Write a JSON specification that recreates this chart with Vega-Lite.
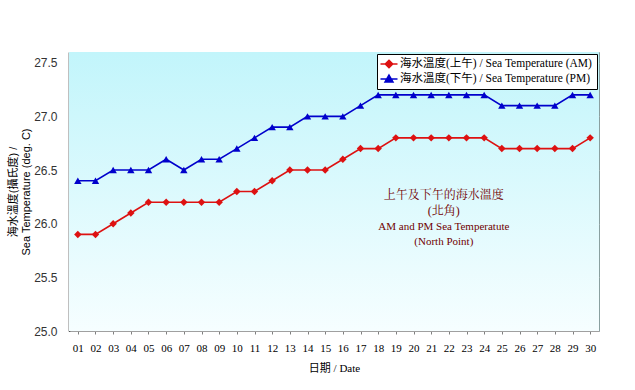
{
  "$schema": "https://vega.github.io/schema/vega-lite/v6.json",
  "width": 530,
  "height": 279,
  "autosize": {"type": "none"},
  "padding": {"left": 69, "top": 52, "right": 36, "bottom": 59},
  "background": "white",
  "config": {"view": {"stroke": "#8aa0a0", "strokeWidth": 1}},
  "datasets": {
    "temps": [
      {"date": "01", "series": "海水溫度(上午) / Sea Temperature (AM)", "temp": 25.9},
      {"date": "02", "series": "海水溫度(上午) / Sea Temperature (AM)", "temp": 25.9},
      {"date": "03", "series": "海水溫度(上午) / Sea Temperature (AM)", "temp": 26.0},
      {"date": "04", "series": "海水溫度(上午) / Sea Temperature (AM)", "temp": 26.1},
      {"date": "05", "series": "海水溫度(上午) / Sea Temperature (AM)", "temp": 26.2},
      {"date": "06", "series": "海水溫度(上午) / Sea Temperature (AM)", "temp": 26.2},
      {"date": "07", "series": "海水溫度(上午) / Sea Temperature (AM)", "temp": 26.2},
      {"date": "08", "series": "海水溫度(上午) / Sea Temperature (AM)", "temp": 26.2},
      {"date": "09", "series": "海水溫度(上午) / Sea Temperature (AM)", "temp": 26.2},
      {"date": "10", "series": "海水溫度(上午) / Sea Temperature (AM)", "temp": 26.3},
      {"date": "11", "series": "海水溫度(上午) / Sea Temperature (AM)", "temp": 26.3},
      {"date": "12", "series": "海水溫度(上午) / Sea Temperature (AM)", "temp": 26.4},
      {"date": "13", "series": "海水溫度(上午) / Sea Temperature (AM)", "temp": 26.5},
      {"date": "14", "series": "海水溫度(上午) / Sea Temperature (AM)", "temp": 26.5},
      {"date": "15", "series": "海水溫度(上午) / Sea Temperature (AM)", "temp": 26.5},
      {"date": "16", "series": "海水溫度(上午) / Sea Temperature (AM)", "temp": 26.6},
      {"date": "17", "series": "海水溫度(上午) / Sea Temperature (AM)", "temp": 26.7},
      {"date": "18", "series": "海水溫度(上午) / Sea Temperature (AM)", "temp": 26.7},
      {"date": "19", "series": "海水溫度(上午) / Sea Temperature (AM)", "temp": 26.8},
      {"date": "20", "series": "海水溫度(上午) / Sea Temperature (AM)", "temp": 26.8},
      {"date": "21", "series": "海水溫度(上午) / Sea Temperature (AM)", "temp": 26.8},
      {"date": "22", "series": "海水溫度(上午) / Sea Temperature (AM)", "temp": 26.8},
      {"date": "23", "series": "海水溫度(上午) / Sea Temperature (AM)", "temp": 26.8},
      {"date": "24", "series": "海水溫度(上午) / Sea Temperature (AM)", "temp": 26.8},
      {"date": "25", "series": "海水溫度(上午) / Sea Temperature (AM)", "temp": 26.7},
      {"date": "26", "series": "海水溫度(上午) / Sea Temperature (AM)", "temp": 26.7},
      {"date": "27", "series": "海水溫度(上午) / Sea Temperature (AM)", "temp": 26.7},
      {"date": "28", "series": "海水溫度(上午) / Sea Temperature (AM)", "temp": 26.7},
      {"date": "29", "series": "海水溫度(上午) / Sea Temperature (AM)", "temp": 26.7},
      {"date": "30", "series": "海水溫度(上午) / Sea Temperature (AM)", "temp": 26.8},
      {"date": "01", "series": "海水溫度(下午) / Sea Temperature (PM)", "temp": 26.4},
      {"date": "02", "series": "海水溫度(下午) / Sea Temperature (PM)", "temp": 26.4},
      {"date": "03", "series": "海水溫度(下午) / Sea Temperature (PM)", "temp": 26.5},
      {"date": "04", "series": "海水溫度(下午) / Sea Temperature (PM)", "temp": 26.5},
      {"date": "05", "series": "海水溫度(下午) / Sea Temperature (PM)", "temp": 26.5},
      {"date": "06", "series": "海水溫度(下午) / Sea Temperature (PM)", "temp": 26.6},
      {"date": "07", "series": "海水溫度(下午) / Sea Temperature (PM)", "temp": 26.5},
      {"date": "08", "series": "海水溫度(下午) / Sea Temperature (PM)", "temp": 26.6},
      {"date": "09", "series": "海水溫度(下午) / Sea Temperature (PM)", "temp": 26.6},
      {"date": "10", "series": "海水溫度(下午) / Sea Temperature (PM)", "temp": 26.7},
      {"date": "11", "series": "海水溫度(下午) / Sea Temperature (PM)", "temp": 26.8},
      {"date": "12", "series": "海水溫度(下午) / Sea Temperature (PM)", "temp": 26.9},
      {"date": "13", "series": "海水溫度(下午) / Sea Temperature (PM)", "temp": 26.9},
      {"date": "14", "series": "海水溫度(下午) / Sea Temperature (PM)", "temp": 27.0},
      {"date": "15", "series": "海水溫度(下午) / Sea Temperature (PM)", "temp": 27.0},
      {"date": "16", "series": "海水溫度(下午) / Sea Temperature (PM)", "temp": 27.0},
      {"date": "17", "series": "海水溫度(下午) / Sea Temperature (PM)", "temp": 27.1},
      {"date": "18", "series": "海水溫度(下午) / Sea Temperature (PM)", "temp": 27.2},
      {"date": "19", "series": "海水溫度(下午) / Sea Temperature (PM)", "temp": 27.2},
      {"date": "20", "series": "海水溫度(下午) / Sea Temperature (PM)", "temp": 27.2},
      {"date": "21", "series": "海水溫度(下午) / Sea Temperature (PM)", "temp": 27.2},
      {"date": "22", "series": "海水溫度(下午) / Sea Temperature (PM)", "temp": 27.2},
      {"date": "23", "series": "海水溫度(下午) / Sea Temperature (PM)", "temp": 27.2},
      {"date": "24", "series": "海水溫度(下午) / Sea Temperature (PM)", "temp": 27.2},
      {"date": "25", "series": "海水溫度(下午) / Sea Temperature (PM)", "temp": 27.1},
      {"date": "26", "series": "海水溫度(下午) / Sea Temperature (PM)", "temp": 27.1},
      {"date": "27", "series": "海水溫度(下午) / Sea Temperature (PM)", "temp": 27.1},
      {"date": "28", "series": "海水溫度(下午) / Sea Temperature (PM)", "temp": 27.1},
      {"date": "29", "series": "海水溫度(下午) / Sea Temperature (PM)", "temp": 27.2},
      {"date": "30", "series": "海水溫度(下午) / Sea Temperature (PM)", "temp": 27.2}
    ],
    "notes": [
      {"date": "22", "text": "上午及下午的海水溫度", "ty": 26.27, "kind": "zh"},
      {"date": "22", "text": "(北角)", "ty": 26.12, "kind": "zh"},
      {"date": "22", "text": "AM and PM Sea Temperatute", "ty": 25.97, "kind": "en"},
      {"date": "22", "text": "(North Point)", "ty": 25.83, "kind": "en"}
    ]
  },
  "layer": [
    {
      "data": {"values": [{"top": 27.6, "bottom": 25.0}]},
      "mark": {
        "type": "rect",
        "color": {
          "gradient": "linear", "x1": 0, "y1": 0, "x2": 0, "y2": 1,
          "stops": [
            {"offset": 0, "color": "#c2f5fb"},
            {"offset": 1, "color": "#f6feff"}
          ]
        }
      },
      "encoding": {
        "y": {"field": "top", "type": "quantitative", "scale": {"domain": [25, 27.6], "nice": false, "zero": false}},
        "y2": {"field": "bottom"}
      }
    },
    {
      "data": {"name": "temps"},
      "mark": {"type": "line", "strokeWidth": 1.6},
      "encoding": {
        "x": {
          "field": "date", "type": "ordinal",
          "scale": {"paddingInner": 0, "paddingOuter": 0},
          "axis": {
            "title": "日期 / Date",
            "titleFont": "Liberation Serif, Noto Sans CJK TC",
            "titleFontSize": 11,
            "titleFontWeight": "normal",
            "titleColor": "black",
            "titlePadding": 9,
            "labelAngle": 0,
            "labelFont": "Liberation Serif",
            "labelFontSize": 11,
            "labelColor": "black",
            "labelPadding": 8,
            "bandPosition": 0,
            "tickSize": 3,
            "tickColor": "#808080",
            "domainColor": "#a0a0a0",
            "grid": false
          }
        },
        "y": {
          "field": "temp", "type": "quantitative",
          "scale": {"domain": [25, 27.6], "nice": false, "zero": false},
          "axis": {
            "title": ["海水溫度(攝氏度) /", "Sea Temperature (deg. C)"],
            "titleFont": "Liberation Sans, Noto Sans CJK TC",
            "titleFontSize": 11,
            "titleFontWeight": "normal",
            "titleColor": "black",
            "titlePadding": 2,
            "titleLineHeight": 13,
            "values": [25.0, 25.5, 26.0, 26.5, 27.0, 27.5],
            "format": ".1f",
            "labelFont": "Liberation Sans",
            "labelFontSize": 12,
            "labelColor": "#333333",
            "labelPadding": 12,
            "ticks": false,
            "domainColor": "black",
            "domainWidth": 1.5,
            "gridColor": "#bbbbbb",
            "gridDash": [3, 3],
            "gridWidth": 1
          }
        },
        "color": {
          "field": "series", "type": "nominal",
          "scale": {"range": ["#dd1111", "#0000cc"]},
          "legend": {
            "title": null,
            "orient": "top-right",
            "offset": 2,
            "fillColor": "white",
            "strokeColor": "black",
            "padding": 4,
            "rowPadding": 1,
            "labelFont": "Liberation Serif, Noto Sans CJK TC",
            "labelFontSize": 11.5,
            "labelColor": "black",
            "labelLimit": 300,
            "symbolSize": 100,
            "symbolStrokeWidth": 1.5,
            "labelOffset": 7,
            "encode": {
              "symbols": {
                "update": {
                  "shape": {"signal": "datum.index === 0 ? 'M-1.3,0H2.1M0.4,-0.75L1.15,0L0.4,0.75L-0.35,0Z' : 'M-1.3,0H2.1M0.4,-0.8L1.2,0.6L-0.4,0.6Z'"},
                  "fill": {"signal": "datum.index === 0 ? '#dd1111' : '#0000cc'"}
                }
              }
            }
          }
        }
      }
    },
    {
      "data": {"name": "temps"},
      "mark": {"type": "point", "filled": true, "opacity": 1},
      "encoding": {
        "x": {"field": "date", "type": "ordinal"},
        "y": {"field": "temp", "type": "quantitative"},
        "color": {"field": "series", "type": "nominal", "legend": null},
        "shape": {"field": "series", "type": "nominal", "scale": {"range": ["diamond", "triangle-up"]}, "legend": null},
        "size": {"value": 55}
      }
    },
    {
      "data": {"name": "notes"},
      "mark": {"type": "text", "align": "center", "baseline": "middle", "dx": -5, "color": "#700000", "font": "Liberation Serif, Noto Serif CJK TC, Noto Sans CJK TC"},
      "encoding": {
        "x": {"field": "date", "type": "ordinal"},
        "y": {"field": "ty", "type": "quantitative"},
        "text": {"field": "text"},
        "size": {"condition": {"test": "datum.kind === 'zh'", "value": 12}, "value": 11}
      }
    }
  ]
}
